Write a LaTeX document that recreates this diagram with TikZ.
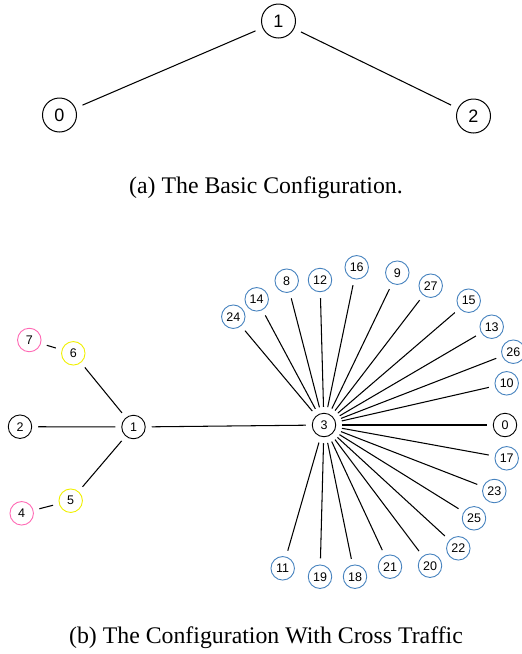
\documentclass[tikz,border=0pt]{standalone}
\usepackage{fontspec}
\setmainfont{Liberation Serif}
\newfontfamily\lsans{Liberation Sans}
\definecolor{nblue}{RGB}{70,130,190}
\definecolor{npink}{RGB}{255,105,180}
\definecolor{nyellow}{RGB}{240,240,0}
\begin{document}
\begin{tikzpicture}[x=1pt,y=-1pt,
  bignode/.style={circle,draw=black,line width=1pt,minimum size=34pt,inner sep=0pt,outer sep=8pt,font=\lsans\fontsize{18}{20}\selectfont},
  smallnode/.style={circle,draw=black,line width=0.9pt,minimum size=23.5pt,inner sep=0pt,outer sep=6.5pt,font=\lsans\fontsize{12.5}{14}\selectfont},
  bluenode/.style={smallnode,draw=nblue},
  pinknode/.style={smallnode,draw=npink},
  yellownode/.style={smallnode,draw=nyellow},
  edge/.style={line width=1.05pt},
  caption/.style={font=\fontsize{23.8}{28}\selectfont,inner sep=0pt,anchor=base}]
\useasboundingbox (0,0) rectangle (522,654);
% (a)
\node[bignode] (a1) at (278.5,21) {1};
\node[bignode] (a0) at (59.5,115) {0};
\node[bignode] (a2) at (473.5,116) {2};
\draw[edge] (a1) -- (a0);
\draw[edge] (a1) -- (a2);
\node[caption] (capa) at (266,193) {(a) The Basic Configuration.};
% (b)
\node[pinknode] (b7) at (29.3,340) {7};
\node[yellownode] (b6) at (73.3,353.3) {6};
\node[smallnode] (b2) at (20,426.7) {2};
\node[smallnode] (b1) at (133.5,427) {1};
\node[yellownode] (b5) at (70.7,500.7) {5};
\node[pinknode] (b4) at (21.7,513.3) {4};
\node[smallnode] (b3) at (324,425) {3};
\node[smallnode] (b0) at (505,425) {0};
\node[bluenode] (b24) at (233.3,316.7) {24};
\node[bluenode] (b14) at (256.7,299.3) {14};
\node[bluenode] (b8) at (286.7,280.7) {8};
\node[bluenode] (b12) at (320,280) {12};
\node[bluenode] (b16) at (356.7,267.3) {16};
\node[bluenode] (b9) at (397.3,272.7) {9};
\node[bluenode] (b27) at (430.7,285.7) {27};
\node[bluenode] (b15) at (468.7,300.7) {15};
\node[bluenode] (b13) at (491.7,326.7) {13};
\node[bluenode] (b26) at (513.3,351.7) {26};
\node[bluenode] (b10) at (506.7,383.3) {10};
\node[bluenode] (b17) at (506.7,458.3) {17};
\node[bluenode] (b23) at (494.3,491) {23};
\node[bluenode] (b25) at (474,518.3) {25};
\node[bluenode] (b22) at (458.3,548.3) {22};
\node[bluenode] (b20) at (430,565.7) {20};
\node[bluenode] (b21) at (390,566.7) {21};
\node[bluenode] (b18) at (355,576.7) {18};
\node[bluenode] (b19) at (320,576.7) {19};
\node[bluenode] (b11) at (282.7,568.3) {11};
\draw[edge] (b7) -- (b6);
\draw[edge] (b6) -- (b1);
\draw[edge] (b2) -- (b1);
\draw[edge] (b5) -- (b1);
\draw[edge] (b4) -- (b5);
\draw[edge] (b1) -- (b3);
\foreach \n in {0,24,14,8,12,16,9,27,15,13,26,10,17,23,25,22,20,21,18,19,11}
  \draw[edge] (b3) -- (b\n);
\node[caption] (capb) at (266,643) {(b) The Configuration With Cross Traffic};
\end{tikzpicture}
\end{document}
